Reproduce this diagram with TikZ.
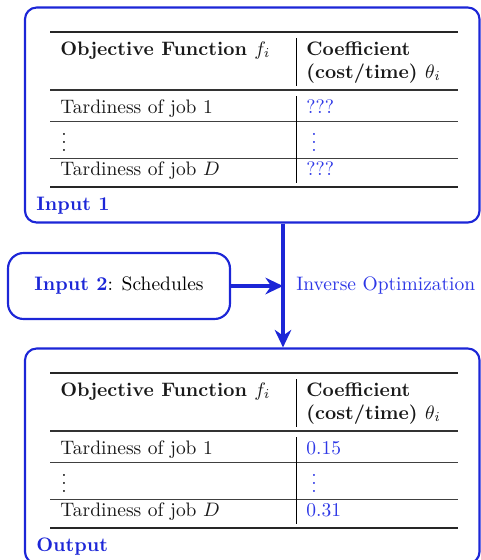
\documentclass[tikz,border=0pt]{standalone}
\usetikzlibrary{arrows.meta,fit}
\definecolor{fblue}{RGB}{28,38,215}
\definecolor{tblue}{RGB}{45,55,230}
\newcommand{\myvdots}{\vbox{\baselineskip4pt\lineskiplimit0pt\hbox{.}\hbox{.}\hbox{.}}}
\tikzset{
  frame/.style={draw=fblue, line width=1.1pt, rounded corners=6pt, inner sep=0pt},
  cell/.style={anchor=base west, inner sep=0pt, text=black!90},
  bcell/.style={anchor=base west, inner sep=0pt, text=tblue},
  heavyrule/.style={line width=0.8pt, black!85},
  midrule/.style={line width=0.55pt, black!80},
  thinrule/.style={line width=0.45pt, black!75},
  vrule/.style={line width=0.45pt, black},
  flow/.style={draw=fblue, line width=1.6pt, -{Stealth[length=9pt,width=8.5pt]}},
  boxlabel/.style={anchor=base west, inner sep=0pt, text=fblue, font=\bfseries}
}
\newcommand{\coeftable}[4]{%
\begin{scope}[shift={(0,#1)}]
  \draw[heavyrule] (50,32) -- (458,32);
  \node[cell] (#2h1) at (60,55) {\bfseries Objective Function $f_i$};
  \node[cell] (#2h2) at (306,55) {\bfseries Coefficient};
  \node[cell] (#2h3) at (306,78) {\bfseries (cost/time) $\theta_i$};
  \draw[vrule] (296,38) -- (296,86);
  \draw[midrule] (50,90) -- (458,90);
  \node[cell] (#2r1) at (60,113) {Tardiness of job 1};
  \node[bcell] (#2v1) at (306,113) {#3};
  \draw[thinrule] (50,121) -- (458,121);
  \node[cell] (#2d1) at (61,151) {\myvdots};
  \node[bcell] (#2d2) at (311,151) {\myvdots};
  \draw[thinrule] (50,158) -- (458,158);
  \node[cell] (#2r2) at (60,175) {Tardiness of job $D$};
  \node[bcell] (#2v2) at (306,175) {#4};
  \draw[vrule] (296,96) -- (296,183);
  \draw[heavyrule] (50,187) -- (458,187);
\end{scope}}
\begin{document}
\begin{tikzpicture}[x=0.513pt, y=-0.513pt]
  \clip (0,0) rectangle (481,560);
  % top box
  \node[frame, fit={(25,7.5) (479.5,222.5)}] (top) {};
  \coeftable{0}{a}{???}{???}
  \node[boxlabel] (in1) at (36,210) {Input 1};
  % output box
  \node[frame, fit={(25,348.5) (479.5,563.5)}] (out) {};
  \coeftable{341}{b}{0.15}{0.31}
  \node[boxlabel] (outl) at (36,551) {Output};
  % input 2
  \node[frame, rounded corners=8pt, fit={(8,253) (230,319)}] (in2) {};
  \node[inner sep=0pt] (in2t) at (in2.center) {\textcolor{fblue}{\bfseries Input 2}: Schedules};
  % flow
  \coordinate (j) at (283,286);
  \draw[flow] (in2.east) -- (j);
  \draw[flow] (top.south -| j) -- (out.north -| j);
  \node[anchor=west, inner sep=0pt, text=tblue] (io) at (296,286) {Inverse Optimization};
\end{tikzpicture}
\end{document}
